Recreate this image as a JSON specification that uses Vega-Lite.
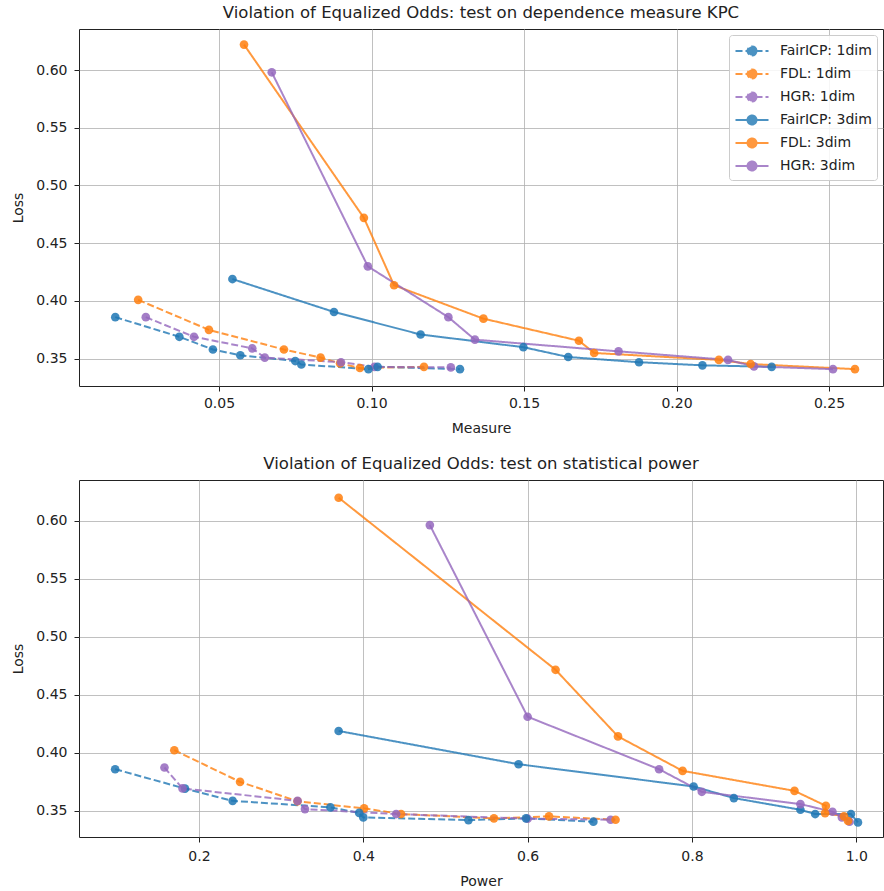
{
  "$schema": "https://vega.github.io/schema/vega-lite/v6.json",
  "padding": {"left": 11, "top": 4, "right": 0, "bottom": 0},
  "spacing": 19,
  "config": {
    "font": "DejaVu Sans",
    "view": {"stroke": "#222222", "strokeWidth": 1},
    "axis": {
      "domain": false,
      "grid": true,
      "gridColor": "#b0b0b0",
      "gridWidth": 0.8,
      "tickColor": "#222222",
      "tickSize": 5,
      "labelFontSize": 14,
      "labelColor": "#222222",
      "labelPadding": 5,
      "titleFontSize": 14,
      "titleFontWeight": "normal",
      "titleColor": "#222222"
    },
    "axisY": {"labelPadding": 7, "titlePadding": 10},
    "axisX": {"titlePadding": 11},
    "title": {"fontSize": 16.5, "fontWeight": "normal", "color": "#222222", "offset": 8},
    "legend": {
      "orient": "top-right",
      "symbolType": "M-1.65,0L1.65,0M0.45,0A0.45,0.45 0 1,1 -0.45,0A0.45,0.45 0 1,1 0.45,0",
      "symbolSize": 400,
      "symbolStrokeWidth": 2,
      "labelFontSize": 14,
      "labelColor": "#222222",
      "labelOffset": 17,
      "rowPadding": 3,
      "padding": 5,
      "symbolOffset": 7,
      "fillColor": "rgba(255,255,255,0.85)",
      "strokeColor": "#cccccc",
      "cornerRadius": 3,
      "offset": 6
    }
  },
  "resolve": {
    "scale": {"stroke": "independent", "fill": "independent", "strokeDash": "independent"},
    "legend": {"stroke": "independent", "fill": "independent", "strokeDash": "independent"}
  },
  "vconcat": [
    {
      "title": "Violation of Equalized Odds: test on dependence measure KPC",
      "width": 804,
      "height": 357,
      "data": {"values": [
        {"series": "FairICP: 1dim", "i": 0, "x": 0.016, "y": 0.386},
        {"series": "FairICP: 1dim", "i": 1, "x": 0.037, "y": 0.369},
        {"series": "FairICP: 1dim", "i": 2, "x": 0.048, "y": 0.358},
        {"series": "FairICP: 1dim", "i": 3, "x": 0.057, "y": 0.353},
        {"series": "FairICP: 1dim", "i": 4, "x": 0.075, "y": 0.348},
        {"series": "FairICP: 1dim", "i": 5, "x": 0.077, "y": 0.345},
        {"series": "FairICP: 1dim", "i": 6, "x": 0.099, "y": 0.341},
        {"series": "FairICP: 1dim", "i": 7, "x": 0.102, "y": 0.343},
        {"series": "FairICP: 1dim", "i": 8, "x": 0.129, "y": 0.341},
        {"series": "FDL: 1dim", "i": 0, "x": 0.0235, "y": 0.401},
        {"series": "FDL: 1dim", "i": 1, "x": 0.0467, "y": 0.375},
        {"series": "FDL: 1dim", "i": 2, "x": 0.0713, "y": 0.358},
        {"series": "FDL: 1dim", "i": 3, "x": 0.0833, "y": 0.351},
        {"series": "FDL: 1dim", "i": 4, "x": 0.0897, "y": 0.346},
        {"series": "FDL: 1dim", "i": 5, "x": 0.0962, "y": 0.342},
        {"series": "FDL: 1dim", "i": 6, "x": 0.1172, "y": 0.343},
        {"series": "HGR: 1dim", "i": 0, "x": 0.026, "y": 0.386},
        {"series": "HGR: 1dim", "i": 1, "x": 0.0418, "y": 0.369},
        {"series": "HGR: 1dim", "i": 2, "x": 0.0609, "y": 0.359},
        {"series": "HGR: 1dim", "i": 3, "x": 0.065, "y": 0.351},
        {"series": "HGR: 1dim", "i": 4, "x": 0.09, "y": 0.347},
        {"series": "HGR: 1dim", "i": 5, "x": 0.101, "y": 0.343},
        {"series": "HGR: 1dim", "i": 6, "x": 0.126, "y": 0.3425},
        {"series": "FairICP: 3dim", "i": 0, "x": 0.0544, "y": 0.419},
        {"series": "FairICP: 3dim", "i": 1, "x": 0.0877, "y": 0.3905},
        {"series": "FairICP: 3dim", "i": 2, "x": 0.1161, "y": 0.371},
        {"series": "FairICP: 3dim", "i": 3, "x": 0.1498, "y": 0.36},
        {"series": "FairICP: 3dim", "i": 4, "x": 0.1645, "y": 0.3515},
        {"series": "FairICP: 3dim", "i": 5, "x": 0.1877, "y": 0.347},
        {"series": "FairICP: 3dim", "i": 6, "x": 0.2085, "y": 0.3443},
        {"series": "FairICP: 3dim", "i": 7, "x": 0.2312, "y": 0.343},
        {"series": "FDL: 3dim", "i": 0, "x": 0.0582, "y": 0.622},
        {"series": "FDL: 3dim", "i": 1, "x": 0.0975, "y": 0.472},
        {"series": "FDL: 3dim", "i": 2, "x": 0.1074, "y": 0.4136},
        {"series": "FDL: 3dim", "i": 3, "x": 0.1367, "y": 0.3847},
        {"series": "FDL: 3dim", "i": 4, "x": 0.168, "y": 0.3656},
        {"series": "FDL: 3dim", "i": 5, "x": 0.173, "y": 0.355},
        {"series": "FDL: 3dim", "i": 6, "x": 0.2139, "y": 0.349},
        {"series": "FDL: 3dim", "i": 7, "x": 0.2243, "y": 0.3454},
        {"series": "FDL: 3dim", "i": 8, "x": 0.2585, "y": 0.341},
        {"series": "HGR: 3dim", "i": 0, "x": 0.0673, "y": 0.598},
        {"series": "HGR: 3dim", "i": 1, "x": 0.0988, "y": 0.43},
        {"series": "HGR: 3dim", "i": 2, "x": 0.1252, "y": 0.386},
        {"series": "HGR: 3dim", "i": 3, "x": 0.1339, "y": 0.3665},
        {"series": "HGR: 3dim", "i": 4, "x": 0.181, "y": 0.3564},
        {"series": "HGR: 3dim", "i": 5, "x": 0.2169, "y": 0.349},
        {"series": "HGR: 3dim", "i": 6, "x": 0.2254, "y": 0.3434},
        {"series": "HGR: 3dim", "i": 7, "x": 0.2513, "y": 0.341}
      ]},
      "encoding": {
        "x": {"field": "x", "type": "quantitative", "title": "Measure",
              "scale": {"domain": [0.0041, 0.2677], "nice": false, "zero": false},
              "axis": {"values": [0.05, 0.1, 0.15, 0.2, 0.25], "format": ".2f"}},
        "y": {"field": "y", "type": "quantitative", "title": "Loss",
              "scale": {"domain": [0.3264, 0.6355], "nice": false, "zero": false},
              "axis": {"values": [0.35, 0.4, 0.45, 0.5, 0.55, 0.6], "format": ".2f"}},
        "order": {"field": "i", "type": "quantitative"}
      },
      "layer": [
        {
          "mark": {"type": "line", "strokeWidth": 2, "opacity": 0.8},
          "encoding": {
            "stroke": {"field": "series", "type": "nominal", "title": null,
              "scale": {"domain": ["FairICP: 1dim", "FDL: 1dim", "HGR: 1dim", "FairICP: 3dim", "FDL: 3dim", "HGR: 3dim"],
                        "range": ["#1f77b4", "#ff7f0e", "#9467bd", "#1f77b4", "#ff7f0e", "#9467bd"]}},
            "strokeDash": {"field": "series", "type": "nominal", "title": null,
              "scale": {"domain": ["FairICP: 1dim", "FDL: 1dim", "HGR: 1dim", "FairICP: 3dim", "FDL: 3dim", "HGR: 3dim"],
                        "range": [[7, 3], [7, 3], [7, 3], [1, 0], [1, 0], [1, 0]]}}
          }
        },
        {
          "mark": {"type": "point", "filled": true, "size": 75, "opacity": 0.85, "strokeWidth": 0},
          "encoding": {
            "fill": {"field": "series", "type": "nominal", "title": null,
              "scale": {"domain": ["FairICP: 1dim", "FDL: 1dim", "HGR: 1dim", "FairICP: 3dim", "FDL: 3dim", "HGR: 3dim"],
                        "range": ["#1f77b4", "#ff7f0e", "#9467bd", "#1f77b4", "#ff7f0e", "#9467bd"]}}
          }
        }
      ],
      "resolve": {"legend": {"fill": "shared", "stroke": "shared", "strokeDash": "shared"}}
    },
    {
      "title": "Violation of Equalized Odds: test on statistical power",
      "width": 804,
      "height": 357,
      "data": {"values": [
        {"series": "FairICP: 1dim", "i": 0, "x": 0.098, "y": 0.3857},
        {"series": "FairICP: 1dim", "i": 1, "x": 0.183, "y": 0.369},
        {"series": "FairICP: 1dim", "i": 2, "x": 0.241, "y": 0.3584},
        {"series": "FairICP: 1dim", "i": 3, "x": 0.36, "y": 0.3528},
        {"series": "FairICP: 1dim", "i": 4, "x": 0.395, "y": 0.348},
        {"series": "FairICP: 1dim", "i": 5, "x": 0.4, "y": 0.3441},
        {"series": "FairICP: 1dim", "i": 6, "x": 0.528, "y": 0.3418},
        {"series": "FairICP: 1dim", "i": 7, "x": 0.598, "y": 0.3433},
        {"series": "FairICP: 1dim", "i": 8, "x": 0.68, "y": 0.3404},
        {"series": "FDL: 1dim", "i": 0, "x": 0.17, "y": 0.4021},
        {"series": "FDL: 1dim", "i": 1, "x": 0.25, "y": 0.3748},
        {"series": "FDL: 1dim", "i": 2, "x": 0.32, "y": 0.358},
        {"series": "FDL: 1dim", "i": 3, "x": 0.401, "y": 0.3519},
        {"series": "FDL: 1dim", "i": 4, "x": 0.446, "y": 0.347},
        {"series": "FDL: 1dim", "i": 5, "x": 0.559, "y": 0.3433},
        {"series": "FDL: 1dim", "i": 6, "x": 0.626, "y": 0.345},
        {"series": "FDL: 1dim", "i": 7, "x": 0.707, "y": 0.3421},
        {"series": "HGR: 1dim", "i": 0, "x": 0.158, "y": 0.3872},
        {"series": "HGR: 1dim", "i": 1, "x": 0.18, "y": 0.3691},
        {"series": "HGR: 1dim", "i": 2, "x": 0.32, "y": 0.3584},
        {"series": "HGR: 1dim", "i": 3, "x": 0.329, "y": 0.3513},
        {"series": "HGR: 1dim", "i": 4, "x": 0.44, "y": 0.347},
        {"series": "HGR: 1dim", "i": 5, "x": 0.6, "y": 0.343},
        {"series": "HGR: 1dim", "i": 6, "x": 0.701, "y": 0.3421},
        {"series": "FairICP: 3dim", "i": 0, "x": 0.37, "y": 0.4187},
        {"series": "FairICP: 3dim", "i": 1, "x": 0.589, "y": 0.39},
        {"series": "FairICP: 3dim", "i": 2, "x": 0.802, "y": 0.3708},
        {"series": "FairICP: 3dim", "i": 3, "x": 0.851, "y": 0.3608},
        {"series": "FairICP: 3dim", "i": 4, "x": 0.932, "y": 0.3507},
        {"series": "FairICP: 3dim", "i": 5, "x": 0.95, "y": 0.347},
        {"series": "FairICP: 3dim", "i": 6, "x": 0.9935, "y": 0.347},
        {"series": "FairICP: 3dim", "i": 7, "x": 1.002, "y": 0.3398},
        {"series": "FDL: 3dim", "i": 0, "x": 0.37, "y": 0.62},
        {"series": "FDL: 3dim", "i": 1, "x": 0.634, "y": 0.4715},
        {"series": "FDL: 3dim", "i": 2, "x": 0.71, "y": 0.414},
        {"series": "FDL: 3dim", "i": 3, "x": 0.7886, "y": 0.3843},
        {"series": "FDL: 3dim", "i": 4, "x": 0.9248, "y": 0.367},
        {"series": "FDL: 3dim", "i": 5, "x": 0.963, "y": 0.3541},
        {"series": "FDL: 3dim", "i": 6, "x": 0.962, "y": 0.3478},
        {"series": "FDL: 3dim", "i": 7, "x": 0.985, "y": 0.345},
        {"series": "FDL: 3dim", "i": 8, "x": 0.99, "y": 0.341},
        {"series": "HGR: 3dim", "i": 0, "x": 0.481, "y": 0.5964},
        {"series": "HGR: 3dim", "i": 1, "x": 0.6, "y": 0.431},
        {"series": "HGR: 3dim", "i": 2, "x": 0.76, "y": 0.3857},
        {"series": "HGR: 3dim", "i": 3, "x": 0.812, "y": 0.3662},
        {"series": "HGR: 3dim", "i": 4, "x": 0.932, "y": 0.3556},
        {"series": "HGR: 3dim", "i": 5, "x": 0.971, "y": 0.349},
        {"series": "HGR: 3dim", "i": 6, "x": 0.9825, "y": 0.3441},
        {"series": "HGR: 3dim", "i": 7, "x": 0.9918, "y": 0.3404}
      ]},
      "encoding": {
        "x": {"field": "x", "type": "quantitative", "title": "Power",
              "scale": {"domain": [0.054, 1.0325], "nice": false, "zero": false},
              "axis": {"values": [0.2, 0.4, 0.6, 0.8, 1.0], "format": ".1f", "labelPadding": 7}},
        "y": {"field": "y", "type": "quantitative", "title": "Loss",
              "scale": {"domain": [0.3272, 0.6353], "nice": false, "zero": false},
              "axis": {"values": [0.35, 0.4, 0.45, 0.5, 0.55, 0.6], "format": ".2f"}},
        "order": {"field": "i", "type": "quantitative"}
      },
      "layer": [
        {
          "mark": {"type": "line", "strokeWidth": 2, "opacity": 0.8},
          "encoding": {
            "stroke": {"field": "series", "type": "nominal", "legend": null,
              "scale": {"domain": ["FairICP: 1dim", "FDL: 1dim", "HGR: 1dim", "FairICP: 3dim", "FDL: 3dim", "HGR: 3dim"],
                        "range": ["#1f77b4", "#ff7f0e", "#9467bd", "#1f77b4", "#ff7f0e", "#9467bd"]}},
            "strokeDash": {"field": "series", "type": "nominal", "legend": null,
              "scale": {"domain": ["FairICP: 1dim", "FDL: 1dim", "HGR: 1dim", "FairICP: 3dim", "FDL: 3dim", "HGR: 3dim"],
                        "range": [[7, 3], [7, 3], [7, 3], [1, 0], [1, 0], [1, 0]]}}
          }
        },
        {
          "mark": {"type": "point", "filled": true, "size": 75, "opacity": 0.85, "strokeWidth": 0},
          "encoding": {
            "fill": {"field": "series", "type": "nominal", "legend": null,
              "scale": {"domain": ["FairICP: 1dim", "FDL: 1dim", "HGR: 1dim", "FairICP: 3dim", "FDL: 3dim", "HGR: 3dim"],
                        "range": ["#1f77b4", "#ff7f0e", "#9467bd", "#1f77b4", "#ff7f0e", "#9467bd"]}}
          }
        }
      ]
    }
  ]
}
